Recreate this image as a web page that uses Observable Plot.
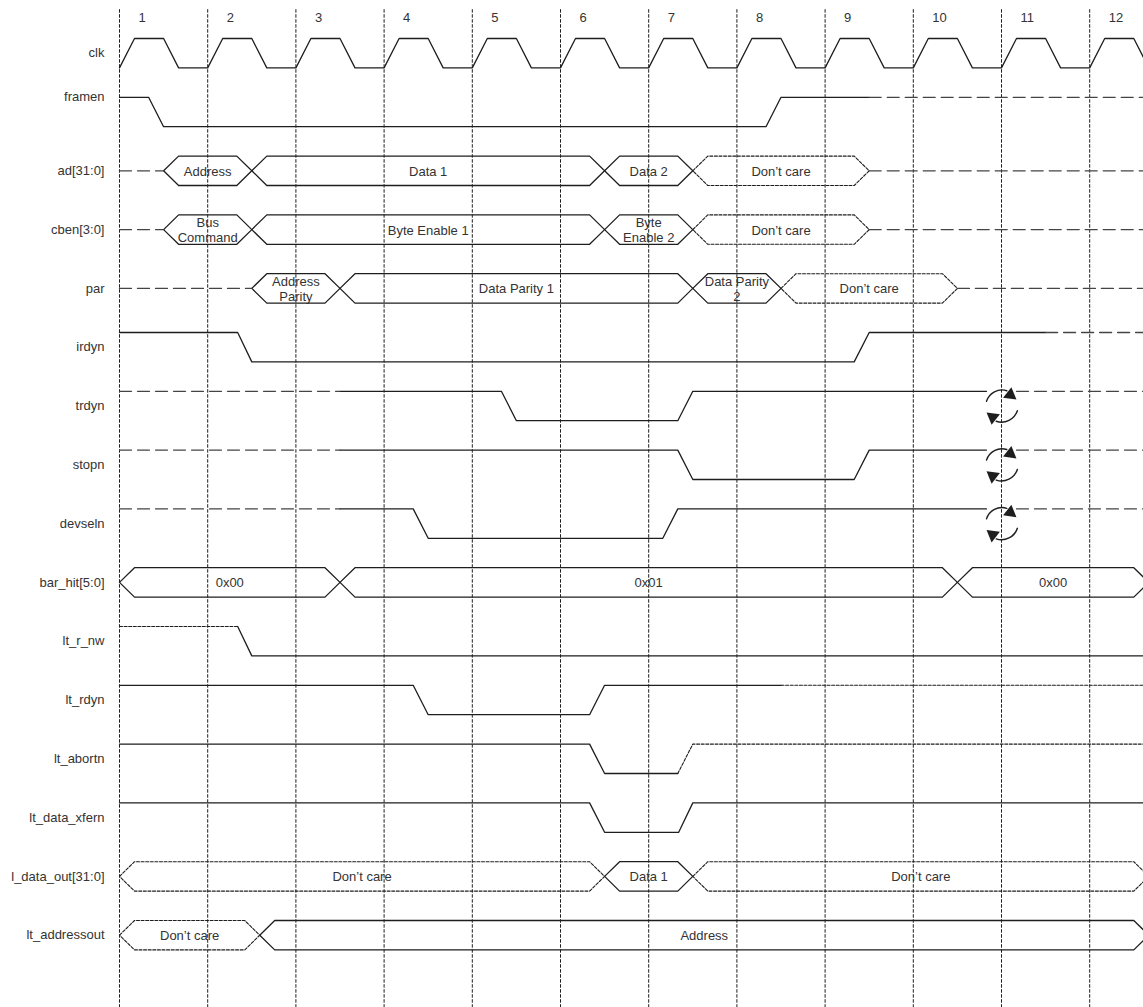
<!DOCTYPE html>
<html>
<head>
<meta charset="utf-8">
<script src="https://cdn.jsdelivr.net/npm/d3@7"></script>
<script src="https://cdn.jsdelivr.net/npm/@observablehq/plot@0.6"></script>
<style>
  html, body { margin: 0; padding: 0; background: #fff; overflow: hidden; }
  #chart svg { display: block; }
</style>
</head>
<body>
<div id="chart"></div>
<script>
// ---------- DATA ----------
const cycleNumbers = [1, 2, 3, 4, 5, 6, 7, 8, 9, 10, 11, 12];

const rowNames = ["clk", "framen", "ad[31:0]", "cben[3:0]", "par", "irdyn", "trdyn", "stopn",
  "devseln", "bar_hit[5:0]", "lt_r_nw", "lt_rdyn", "lt_abortn", "lt_data_xfern",
  "l_data_out[31:0]", "lt_addressout"];

// clock rising edges (cycle start times)
const clkRises = [0, 1, 2, 3, 4, 5, 6, 7, 8, 9, 10, 11];

// digital waves: [time (cycles), level (1 high / 0 low), style of the following segment]
const framenWave = [[0, 1, "solid"], [0.33, 1, "solid"], [0.5, 0, "solid"], [7.33, 0, "solid"], [7.5, 1, "solid"], [8.5, 1, "dashed"], [11.8, 1]];
const irdynWave = [[0, 1, "solid"], [1.34, 1, "solid"], [1.5, 0, "solid"], [8.33, 0, "solid"], [8.5, 1, "solid"], [10.5, 1, "dashed"], [11.8, 1]];
const trdynWave = [[0, 1, "dashed"], [2.5, 1, "solid"], [4.33, 1, "solid"], [4.5, 0, "solid"], [6.33, 0, "solid"], [6.5, 1, "solid"], [9.83, 1, "gap"], [10.17, 1, "dashed"], [11.8, 1]];
const stopnWave = [[0, 1, "dashed"], [2.5, 1, "solid"], [6.33, 1, "solid"], [6.5, 0, "solid"], [8.33, 0, "solid"], [8.5, 1, "solid"], [9.83, 1, "gap"], [10.17, 1, "dashed"], [11.8, 1]];
const devselnWave = [[0, 1, "dashed"], [2.5, 1, "solid"], [3.33, 1, "solid"], [3.5, 0, "solid"], [6.16, 0, "solid"], [6.33, 1, "solid"], [9.83, 1, "gap"], [10.17, 1, "dashed"], [11.8, 1]];
const ltRnwWave = [[0, 1, "dotted"], [1.34, 1, "solid"], [1.5, 0, "solid"], [11.8, 0]];
const ltRdynWave = [[0, 1, "solid"], [3.33, 1, "solid"], [3.5, 0, "solid"], [5.33, 0, "solid"], [5.5, 1, "solid"], [7.5, 1, "dotted"], [11.8, 1]];
const ltAbortnWave = [[0, 1, "solid"], [5.33, 1, "solid"], [5.5, 0, "solid"], [6.33, 0, "dotted"], [6.5, 1, "dotted"], [11.8, 1]];
const ltDataXfernWave = [[0, 1, "solid"], [5.33, 1, "solid"], [5.5, 0, "solid"], [6.34, 0, "solid"], [6.5, 1, "solid"], [11.8, 1]];

// bus segments: [start, end, label, kind]  kind: valid | dc (don't care) | z (undriven)
const adBus = [[0, 0.5, null, "z"], [0.5, 1.5, "Address", "valid"], [1.5, 5.5, "Data 1", "valid"], [5.5, 6.5, "Data 2", "valid"], [6.5, 8.5, "Don’t care", "dc"], [8.5, 11.8, null, "z"]];
const cbenBus = [[0, 0.5, null, "z"], [0.5, 1.5, "Bus\nCommand", "valid"], [1.5, 5.5, "Byte Enable 1", "valid"], [5.5, 6.5, "Byte\nEnable 2", "valid"], [6.5, 8.5, "Don’t care", "dc"], [8.5, 11.8, null, "z"]];
const parBus = [[0, 1.5, null, "z"], [1.5, 2.5, "Address\nParity", "valid"], [2.5, 6.5, "Data Parity 1", "valid"], [6.5, 7.5, "Data Parity\n2", "valid"], [7.5, 9.5, "Don’t care", "dc"], [9.5, 11.8, null, "z"]];
const barHitBus = [[0, 2.5, "0x00", "valid"], [2.5, 9.5, "0x01", "valid"], [9.5, 11.67, "0x00", "valid"]];
const lDataOutBus = [[0, 5.5, "Don’t care", "dc"], [5.5, 6.5, "Data 1", "valid"], [6.5, 11.67, "Don’t care", "dc"]];
const ltAddressoutBus = [[0, 1.59, "Don’t care", "dc"], [1.59, 11.67, "Address", "valid"]];

// "may toggle" markers: [row, time]
const toggles = [["trdyn", 10], ["stopn", 10], ["devseln", 10]];

// ---------- BUILD ----------
const HW = 0.17; // half transition width (cycles)
const rowIndex = name => rowNames.indexOf(name);
const yLevel = (row, v) => row + (1 - v) * 0.5;

const clkWave = [];
clkRises.forEach(r => {
  clkWave.push([r, 0, "solid"], [r + HW, 1, "solid"], [r + 0.5, 1, "solid"], [r + 0.5 + HW, 0, "solid"]);
});
clkWave.push([12, 0]);

const digital = [
  ["clk", clkWave], ["framen", framenWave], ["irdyn", irdynWave], ["trdyn", trdynWave],
  ["stopn", stopnWave], ["devseln", devselnWave], ["lt_r_nw", ltRnwWave], ["lt_rdyn", ltRdynWave],
  ["lt_abortn", ltAbortnWave], ["lt_data_xfern", ltDataXfernWave]
];
const buses = [
  ["ad[31:0]", adBus], ["cben[3:0]", cbenBus], ["par", parBus], ["bar_hit[5:0]", barHitBus],
  ["l_data_out[31:0]", lDataOutBus], ["lt_addressout", ltAddressoutBus]
];

const pts = [];
let pid = 0;
digital.forEach(([name, wave]) => {
  const row = rowIndex(name);
  let cur = null;
  for (let j = 0; j < wave.length - 1; j++) {
    const [t0, v0, style] = wave[j];
    const [t1, v1] = wave[j + 1];
    if (style === "gap") { cur = null; continue; }
    if (!cur || cur.style !== style) {
      cur = {style, id: pid++};
      pts.push({id: cur.id, style, t: t0, y: yLevel(row, v0)});
    }
    pts.push({id: cur.id, style, t: t1, y: yLevel(row, v1)});
  }
});

const busLabels = [];
buses.forEach(([name, segs]) => {
  const row = rowIndex(name);
  const top = row, bot = row + 0.5, mid = row + 0.25;
  segs.forEach(([s, e, label, kind]) => {
    const id = pid++;
    if (kind === "z") {
      pts.push({id, style: "dashed", t: s, y: mid}, {id, style: "dashed", t: e, y: mid});
    } else {
      const style = kind === "valid" ? "solid" : "dotted";
      [[s, mid], [s + HW, top], [e - HW, top], [e, mid], [e - HW, bot], [s + HW, bot], [s, mid]]
        .forEach(([t, y]) => pts.push({id, style, t, y}));
    }
    if (label) busLabels.push({t: (s + e) / 2, y: mid, label});
  });
});

// circular "may change" symbol: two arcs, each ending in a filled arrowhead
const arcs = [];
const heads = [];
toggles.forEach(([name, t]) => {
  const c = rowIndex(name) + 0.25;
  arcs.push({x1: t - 0.17, y1: c - 0.08, x2: t + 0.06, y2: c - 0.26});
  arcs.push({x1: t + 0.18, y1: c + 0.08, x2: t - 0.06, y2: c + 0.26});
  heads.push({x: t + 0.1, y: c - 0.19, rot: 128});
  heads.push({x: t - 0.1, y: c + 0.19, rot: -52});
});

const rowLabels = rowNames.map((name, i) => ({name, y: i + (name === "framen" ? 0 : 0.25)}));
const cycleLabels = cycleNumbers.map(n => ({n: String(n), t: n - 1}));

const FONT = "'Liberation Sans', Arial, Helvetica, sans-serif";
const INK = "#1e1e1e";

const chart = Plot.plot({
  width: 1143,
  height: 1007,
  margin: 0,
  x: {domain: [0, 11], range: [119, 1089.2], axis: null},
  y: {domain: [0, 15], range: [38, 920], axis: null},
  style: {fontFamily: FONT, background: "#fff"},
  marks: [
    Plot.ruleX(clkRises, {x: d => d, y1: -0.49, y2: 16.5, stroke: INK, strokeWidth: 1, strokeDasharray: "3.5,1.5"}),
    Plot.line(pts.filter(d => d.style === "solid"), {x: "t", y: "y", z: "id", stroke: INK, strokeWidth: 1.3}),
    Plot.line(pts.filter(d => d.style === "dotted"), {x: "t", y: "y", z: "id", stroke: INK, strokeWidth: 1.1, strokeDasharray: "3,1.6"}),
    Plot.line(pts.filter(d => d.style === "dashed"), {x: "t", y: "y", z: "id", stroke: "#444", strokeWidth: 1.3, strokeDasharray: "12,6"}),
    Plot.arrow(arcs, {x1: "x1", y1: "y1", x2: "x2", y2: "y2", bend: 45, stroke: INK, strokeWidth: 1.4, headLength: 0}),
    Plot.dot(heads, {x: "x", y: "y", symbol: "triangle", r: 5, rotate: "rot", fill: INK, stroke: null}),
    Plot.text(busLabels, {x: "t", y: "y", text: "label", fontSize: 13, lineHeight: 1.2, fill: "#333", fontFamily: FONT}),
    Plot.text(rowLabels, {x: 0, y: "y", text: "name", dx: -15, textAnchor: "end", fontSize: 13, fill: "#333", fontFamily: FONT}),
    Plot.text(cycleLabels, {x: "t", y: -0.36, text: "n", dx: 19, textAnchor: "start", fontSize: 13, fill: "#333", fontFamily: FONT})
  ]
});
document.getElementById("chart").appendChild(chart);
</script>
</body>
</html>
